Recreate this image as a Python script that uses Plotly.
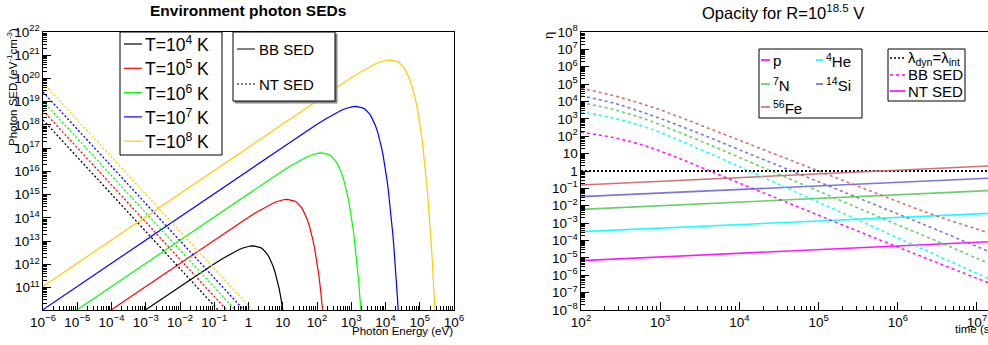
import plotly.graph_objects as go

W, H = 988, 345


def px(x):
    return x / W


def py(y):
    return 1 - y / H


# ---------------- Left panel: Environment photon SEDs ----------------
T_labels = ["T=10<sup>4</sup> K", "T=10<sup>5</sup> K", "T=10<sup>6</sup> K",
            "T=10<sup>7</sup> K", "T=10<sup>8</sup> K"]
T_colors = ["#000000", "#ff0000", "#00ff00", "#0000ff", "#ffcc00"]

# Black-body SEDs (photon energy in eV, density in eV^-1 cm^-3)
bb_E_T4 = [3.162e-4, 8.617e-3, 8.617e-2, 1.723e-1, 2.585e-1, 3.878e-1, 5.170e-1, 6.894e-1, 8.617e-1,
           1.120, 1.379, 1.896, 2.240, 2.585, 3.016, 3.447, 3.878, 4.309, 5.170, 6.032, 6.894, 7.755,
           8.617, 9.479, 10.34, 11.20]
bb_n_T4 = [3.592e9, 9.737e10, 9.305e11, 1.768e12, 2.518e12, 3.487e12, 4.285e12, 5.110e12, 5.695e12,
           6.196e12, 6.338e12, 5.902e12, 5.307e12, 4.614e12, 3.733e12, 2.921e12, 2.226e12, 1.660e12,
           8.754e11, 4.377e11, 2.102e11, 9.784e10, 4.443e10, 1.978e10, 8.658e9, 3.738e9]

bb_E_T5 = [3.162e-5, 8.617e-2, 8.617e-1, 1.723, 2.585, 3.878, 5.170, 6.894, 8.617, 11.20, 13.79, 18.96,
           22.40, 25.85, 30.16, 34.47, 38.78, 43.09, 51.70, 60.32, 68.94, 77.55, 86.17, 94.79, 103.4,
           112.0, 120.6, 129.3, 137.9, 146.5, 155.1]
bb_n_T5 = [3.592e9, 9.737e12, 9.305e13, 1.768e14, 2.518e14, 3.487e14, 4.285e14, 5.110e14, 5.695e14,
           6.196e14, 6.338e14, 5.902e14, 5.307e14, 4.614e14, 3.733e14, 2.921e14, 2.226e14, 1.660e14,
           8.754e13, 4.377e13, 2.102e13, 9.784e12, 4.443e12, 1.978e12, 8.658e11, 3.738e11, 1.595e11,
           6.736e10, 2.819e10, 1.171e10, 4.830e9]

bb_E_T6 = [3.162e-6, 8.617e-1, 8.617, 17.23, 25.85, 38.78, 51.70, 68.94, 86.17, 112.0, 137.9, 189.6,
           224.0, 258.5, 301.6, 344.7, 387.8, 430.9, 517.0, 603.2, 689.4, 775.5, 861.7, 947.9, 1034,
           1120, 1206, 1293, 1379, 1465, 1551, 1637, 1723, 1810, 1896, 1982]
bb_n_T6 = [3.592e9, 9.737e14, 9.305e15, 1.768e16, 2.518e16, 3.487e16, 4.285e16, 5.110e16, 5.695e16,
           6.196e16, 6.338e16, 5.902e16, 5.307e16, 4.614e16, 3.733e16, 2.921e16, 2.226e16, 1.660e16,
           8.754e15, 4.377e15, 2.102e15, 9.784e14, 4.443e14, 1.978e14, 8.658e13, 3.738e13, 1.595e13,
           6.736e12, 2.819e12, 1.171e12, 4.830e11, 1.980e11, 8.069e10, 3.273e10, 1.321e10, 5.312e9]

bb_E_T7 = [1e-6, 8.617, 86.17, 172.3, 258.5, 387.8, 517.0, 689.4, 861.7, 1120, 1379, 1896, 2240, 2585,
           3016, 3447, 3878, 4309, 5170, 6032, 6894, 7755, 8617, 9479, 1.034e4, 1.120e4, 1.206e4,
           1.293e4, 1.379e4, 1.465e4, 1.551e4, 1.637e4, 1.723e4, 1.810e4, 1.896e4, 1.982e4, 2.068e4,
           2.240e4, 2.327e4, 2.413e4]
bb_n_T7 = [1.136e10, 9.737e16, 9.305e17, 1.768e18, 2.518e18, 3.487e18, 4.285e18, 5.110e18, 5.695e18,
           6.196e18, 6.338e18, 5.902e18, 5.307e18, 4.614e18, 3.733e18, 2.921e18, 2.226e18, 1.660e18,
           8.754e17, 4.377e17, 2.102e17, 9.784e16, 4.443e16, 1.978e16, 8.658e15, 3.738e15, 1.595e15,
           6.736e14, 2.819e14, 1.171e14, 4.830e13, 1.980e13, 8.069e12, 3.273e12, 1.321e12, 5.312e11,
           2.128e11, 3.380e10, 1.341e10, 5.304e9]

bb_E_T8 = [1e-6, 86.17, 861.7, 1723, 2585, 3878, 5170, 6894, 8617, 1.120e4, 1.379e4, 1.896e4, 2.240e4,
           2.585e4, 3.016e4, 3.447e4, 3.878e4, 4.309e4, 5.170e4, 6.032e4, 6.894e4, 7.755e4, 8.617e4,
           9.479e4, 1.034e5, 1.120e5, 1.206e5, 1.293e5, 1.379e5, 1.465e5, 1.551e5, 1.637e5, 1.723e5,
           1.810e5, 1.896e5, 1.982e5, 2.068e5, 2.240e5, 2.327e5, 2.413e5, 2.585e5, 2.671e5, 2.757e5,
           2.844e5]
bb_n_T8 = [1.136e11, 9.737e18, 9.305e19, 1.768e20, 2.518e20, 3.487e20, 4.285e20, 5.110e20, 5.695e20,
           6.196e20, 6.338e20, 5.902e20, 5.307e20, 4.614e20, 3.733e20, 2.921e20, 2.226e20, 1.660e20,
           8.754e19, 4.377e19, 2.102e19, 9.784e18, 4.443e18, 1.978e18, 8.658e17, 3.738e17, 1.595e17,
           6.736e16, 2.819e16, 1.171e16, 4.830e15, 1.980e15, 8.069e14, 3.273e14, 1.321e14, 5.312e13,
           2.128e13, 3.380e12, 1.341e12, 5.304e11, 8.243e10, 3.237e10, 1.269e10, 4.965e9]

bb_E = [bb_E_T4, bb_E_T5, bb_E_T6, bb_E_T7, bb_E_T8]
bb_n = [bb_n_T4, bb_n_T5, bb_n_T6, bb_n_T7, bb_n_T8]

# Non-thermal (power-law) SEDs: end points of each straight line
nt_E = [1e-6, 10.0]
nt_n = [[1.66e18, 1.05e7],
        [4.17e18, 2.63e7],
        [1.05e19, 6.61e7],
        [2.63e19, 1.66e8],
        [6.61e19, 4.17e8]]

# ---------------- Right panel: Opacity ----------------
nuclei = ["p", "<sup>4</sup>He", "<sup>7</sup>N", "<sup>14</sup>Si", "<sup>56</sup>Fe"]
nuc_colors = ["#ff00ff", "#00ffff", "#5ac85a", "#6a6ad2", "#cc6464"]

t_nt = [1e2, 1.38e7]
eta_nt = [[6.92e-6, 8.51e-5],
          [3.24e-4, 3.63e-3],
          [6.17e-3, 7.41e-2],
          [3.33e-2, 0.380],
          [0.156, 1.95]]

t_bb = [100, 251, 631, 1585, 3981, 1e4, 3.162e4, 1e5, 3.162e5, 1e6, 3.162e6, 1.38e7]
eta_bb = [[169.8, 85.1, 28.8, 6.31, 1.122, 0.1995, 2.40e-2, 2.82e-3, 3.39e-4, 4.17e-5, 5.25e-6, 3.72e-7],
          [2512, 1122, 354.8, 70.8, 11.22, 1.778, 0.1698, 1.585e-2, 1.514e-3, 1.413e-4, 1.349e-5, 6.61e-7],
          [8511, 3548, 1000, 199.5, 35.48, 6.03, 0.646, 6.92e-2, 7.41e-3, 7.94e-4, 8.91e-5, 5.01e-6],
          [2.089e4, 8318, 2239, 478.6, 93.3, 16.6, 1.995, 0.240, 2.82e-2, 3.39e-3, 3.98e-4, 2.40e-5],
          [5.754e4, 2.239e4, 6607, 1514, 302.0, 58.9, 7.59, 1.0, 0.1318, 1.738e-2, 2.512e-3, 2.818e-4]]

t_ref = [1e2, 1.38e7]
eta_ref = [1.0, 1.0]

FONT = "Liberation Sans"

fig = go.Figure()

# left panel traces
for E, n, c in zip(bb_E, bb_n, T_colors):
    fig.add_trace(go.Scatter(x=E, y=n, mode="lines", xaxis="x", yaxis="y",
                             line=dict(color=c, width=1.2), showlegend=False, hoverinfo="skip"))
for n, c in zip(nt_n, T_colors):
    fig.add_trace(go.Scatter(x=nt_E, y=n, mode="lines", xaxis="x", yaxis="y",
                             line=dict(color=c, width=1.3, dash="2px,2px"), showlegend=False,
                             hoverinfo="skip"))

# right panel traces
fig.add_trace(go.Scatter(x=t_ref, y=eta_ref, mode="lines", xaxis="x2", yaxis="y2",
                         line=dict(color="black", width=2, dash="2px,2px"), showlegend=False,
                         hoverinfo="skip"))
for eta, c in zip(eta_nt, nuc_colors):
    fig.add_trace(go.Scatter(x=t_nt, y=eta, mode="lines", xaxis="x2", yaxis="y2",
                             line=dict(color=c, width=1.6), opacity=0.9, showlegend=False,
                             hoverinfo="skip"))
for eta, c in zip(eta_bb, nuc_colors):
    fig.add_trace(go.Scatter(x=t_bb, y=eta, mode="lines", xaxis="x2", yaxis="y2",
                             line=dict(color=c, width=1.6, dash="3px,3px", shape="spline",
                                       smoothing=1.0),
                             opacity=0.9, showlegend=False, hoverinfo="skip"))

axis_common = dict(type="log", showline=True, linecolor="black", linewidth=1, ticks="inside",
                   ticklen=8, tickwidth=1, tickcolor="black", dtick=1, exponentformat="power",
                   showgrid=False, zeroline=False, automargin=False,
                   tickfont=dict(family=FONT, size=10.8, color="black"),
                   minor=dict(ticks="inside", ticklen=4, tickwidth=1, tickcolor="black",
                              dtick="D1", showgrid=False))

fig.update_layout(
    template="none",
    width=W, height=H, autosize=False,
    margin=dict(l=0, r=0, t=0, b=0, pad=0),
    paper_bgcolor="white", plot_bgcolor="white",
    font=dict(family=FONT, color="black"),
    xaxis=dict(axis_common, range=[-6, 6], domain=[px(43), px(454)], anchor="y", mirror=True),
    yaxis=dict(axis_common, range=[10.04, 22], domain=[py(310), py(32)], anchor="x", mirror=True),
    xaxis2=dict(axis_common, range=[2, 7.139], domain=[px(581), 1.0], anchor="y2", mirror=True),
    yaxis2=dict(axis_common, range=[-8, 8], domain=[py(310), py(32)], anchor="x2", mirror=False),
)

shapes = []
annotations = []


def rect(x0, y0, x1, y1):
    shapes.append(dict(type="rect", xref="paper", yref="paper", x0=px(x0), x1=px(x1),
                       y0=py(y1), y1=py(y0), line=dict(color="black", width=1),
                       fillcolor="white", layer="above"))


def sample(x0, x1, y, color, width=1.2, dash="solid"):
    shapes.append(dict(type="line", xref="paper", yref="paper", x0=px(x0), x1=px(x1),
                       y0=py(y), y1=py(y), line=dict(color=color, width=width, dash=dash),
                       layer="above"))


def text(x, y, s, size, xanchor="left", yanchor="middle", angle=0):
    annotations.append(dict(xref="paper", yref="paper", x=px(x), y=py(y), text=s,
                            showarrow=False, xanchor=xanchor, yanchor=yanchor, textangle=angle,
                            font=dict(family=FONT, size=size, color="black")))


# Left legend 1 (temperatures)
rect(120, 32, 222, 155)
for i, (lab, c) in enumerate(zip(T_labels, T_colors)):
    yy = 44 + i * 24.3
    sample(124, 142, yy, c, 1.2)
    text(143, yy, lab, 17.5)

# Left legend 2 (SED type), with ROOT-like shadow
shapes.append(dict(type="rect", xref="paper", yref="paper", x0=px(235), x1=px(337),
                   y0=py(103), y1=py(34), line=dict(color="#888888", width=1),
                   fillcolor="#888888", layer="above"))
rect(233, 32, 335, 101)
sample(237, 255, 49, "#555555", 1.5)
text(257, 49, "BB SED", 15)
sample(237, 255, 84, "black", 1.2, "2px,2px")
text(257, 84, "NT SED", 15)

# Right legend 1 (nuclei)
rect(759, 49, 862, 118)
leg_pos = [(761, 770, 60), (816, 823, 60), (761, 770, 84), (816, 823, 84), (761, 770, 107)]
for (x0, x1, yy), lab, c in zip(leg_pos, nuclei, nuc_colors):
    sample(x0, x1, yy, c, 1.6)
    text(x1 + 1, yy, lab, 15)

# Right legend 2 (line styles)
rect(888, 49, 965, 101)
sample(890, 905, 58, "black", 1.5, "2px,2px")
text(906, 58, "λ<sub>dyn</sub>=λ<sub>int</sub>", 15)
sample(890, 905, 75, "#ff00ff", 1.6, "3px,3px")
text(906, 75, "BB SED", 15)
sample(890, 905, 91, "#ff00ff", 1.6)
text(906, 91, "NT SED", 15)

# Titles
text(248, 10, "<b>Environment photon SEDs</b>", 15.5, xanchor="center")
text(783, 12, "Opacity for R=10<sup>18.5</sup> V", 16.5, xanchor="center")

# Axis titles
text(455, 331, "Photon Energy (eV)", 11.5, xanchor="right")
text(12, 87, "Photon SED (eV<sup>-1</sup>cm<sup>-3</sup>)", 11.5, xanchor="center", angle=-90)
text(549, 36, "η", 13, xanchor="center", angle=-90)
text(953, 329, "time (s)", 11.5, xanchor="left")

fig.update_layout(shapes=shapes, annotations=annotations)

fig.write_html("out.html")
